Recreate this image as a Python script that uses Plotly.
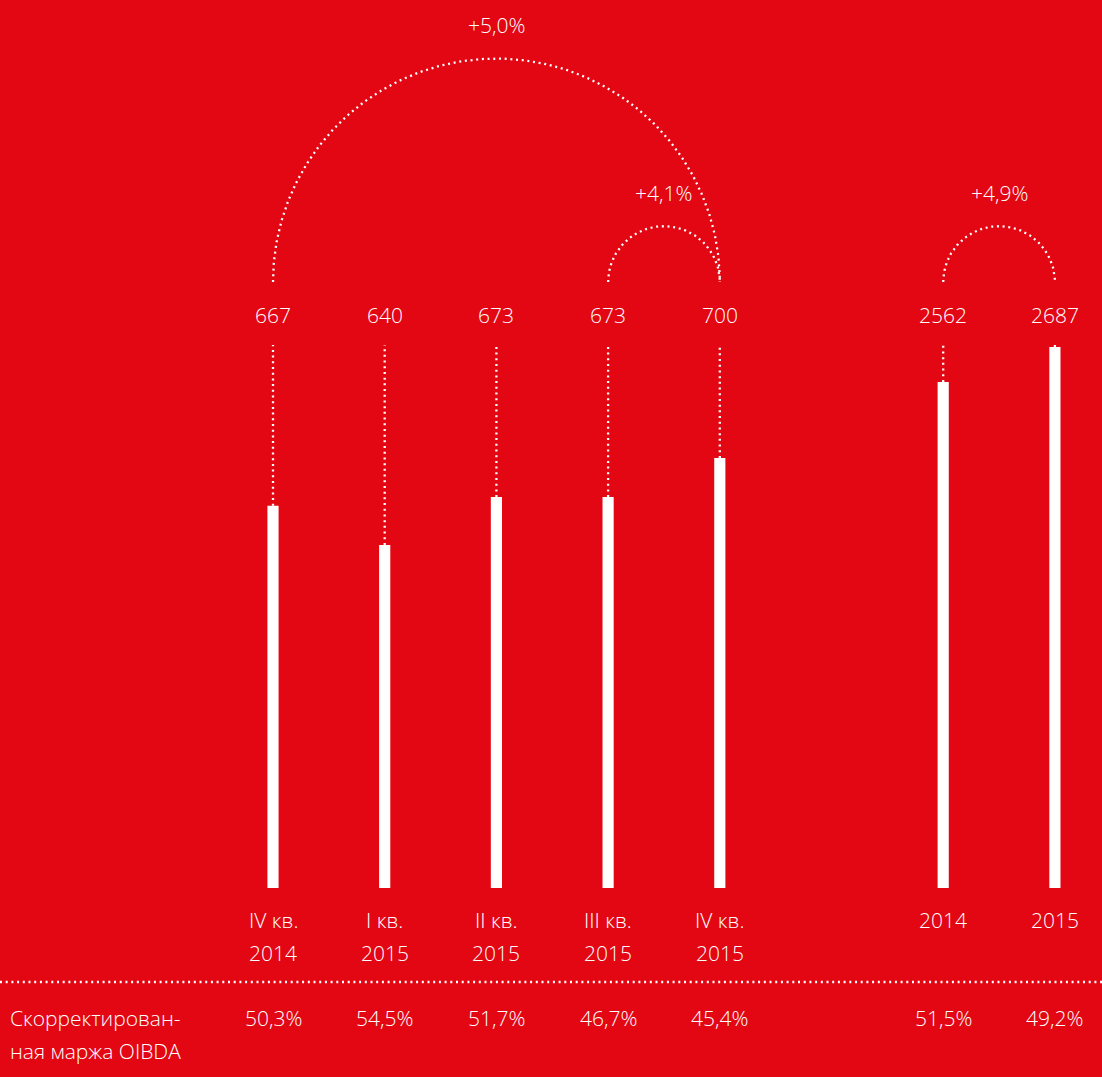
import numpy as np
import plotly.graph_objects as go

# data
quarters = ["IV кв.<br>2014", "I кв.<br>2015", "II кв.<br>2015", "III кв.<br>2015", "IV кв.<br>2015"]
quarter_oibda = [667, 640, 673, 673, 700]
quarter_margin = ["50,3%", "54,5%", "51,7%", "46,7%", "45,4%"]

years = ["2014", "2015"]
year_oibda = [2562, 2687]
year_margin = ["51,5%", "49,2%"]

growth = [(0, 4, "+5,0%"), (3, 4, "+4,1%"), (5, 6, "+4,9%")]  # (from, to, label) by bar index
row_label = ["Скорректирован-", "ная маржа OIBDA"]

RED = "#E30613"
FONT = "Open Sans"
W, H = 1102, 1077

xq = [0, 1, 2, 3, 4]
xy = [6, 7]
xs = xq + xy

# axis floors (bars start from these, not zero)
q_floor, y_floor = 403.4, 755
q_lead, y_lead = 777.9, 2694  # where the dotted leaders stop

fig = go.Figure()

fig.add_trace(go.Bar(x=xq, y=[v - q_floor for v in quarter_oibda], base=q_floor,
                     width=0.1, marker=dict(color="white", line_width=0), yaxis="y"))
fig.add_trace(go.Bar(x=xy, y=[v - y_floor for v in year_oibda], base=y_floor,
                     width=0.1, marker=dict(color="white", line_width=0), yaxis="y2"))

dot = dict(color="white", width=2.3, dash="2px,3.7px")

lx, ly = [], []
for x, v in zip(xq, quarter_oibda):
    lx += [x, x, None]
    ly += [v, q_lead, None]
fig.add_trace(go.Scatter(x=lx, y=ly, mode="lines", line=dot, yaxis="y"))

lx, ly = [], []
for x, v in zip(xy, year_oibda):
    lx += [x, x, None]
    ly += [v, y_lead, None]
fig.add_trace(go.Scatter(x=lx, y=ly, mode="lines", line=dot, yaxis="y2"))

txt = dict(size=21, color="white", family=FONT, weight=300)

# arcs on an axis with same unit length as x
t = np.linspace(np.pi, 0, 200)
for a, b, lab in growth:
    xa, xb = xs[a], xs[b]
    c, r = (xa + xb) / 2, (xb - xa) / 2
    fig.add_trace(go.Scatter(x=c + r * np.cos(t), y=r * np.sin(t), mode="lines",
                             line=dot, yaxis="y3"))
    fig.add_annotation(x=c, xref="x", y=r + 0.3, yref="y3", yanchor="middle", text=lab,
                       showarrow=False, font=txt)

def py(px):
    return 1 - px / H

for x, v in zip(xs, quarter_oibda + year_oibda):
    fig.add_annotation(x=x, xref="x", y=py(315), yref="paper", yanchor="middle", text=str(v),
                       showarrow=False, font=txt)

for x, lab in zip(xs, quarters + years):
    for i, ln in enumerate(lab.split("<br>")):
        fig.add_annotation(x=x, xref="x", y=py(920 + 33 * i), yref="paper", yanchor="middle",
                           text=ln, showarrow=False, font=txt)

for x, m in zip(xs, quarter_margin + year_margin):
    fig.add_annotation(x=x, xref="x", y=py(1018), yref="paper", yanchor="middle", text=m,
                       showarrow=False, font=txt)

for i, ln in enumerate(row_label):
    fig.add_annotation(x=8 / W, xref="paper", xanchor="left", y=py(1018 + 33 * i), yref="paper",
                       yanchor="middle", text=ln, showarrow=False, font=txt)

fig.add_shape(type="line", xref="paper", yref="paper", x0=0, x1=1, y0=py(982), y1=py(982),
              line=dot)

px_unit = 111.7
fig.update_layout(
    width=W, height=H, margin=dict(l=0, r=0, t=0, b=0),
    paper_bgcolor=RED, plot_bgcolor=RED, showlegend=False,
    xaxis=dict(range=[-273 / px_unit, (W - 273) / px_unit], visible=False, fixedrange=True),
    yaxis=dict(range=[273.1, 1015.8], visible=False),
    yaxis2=dict(range=[80, 3926], overlaying="y", visible=False),
    yaxis3=dict(range=[-(H - 282) / px_unit, 282 / px_unit], overlaying="y", visible=False),
)

fig.write_html("out.html", config={"displayModeBar": False},
               post_script="document.body.style.margin='0';"
               "document.body.style.background='%s';" % RED)
